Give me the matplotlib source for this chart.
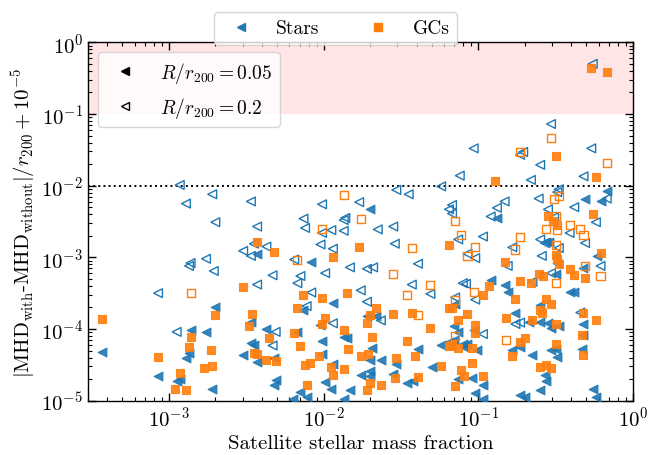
import numpy as np
import matplotlib
matplotlib.use("Agg")
import matplotlib.pyplot as plt
from matplotlib.lines import Line2D

plt.rcParams.update({
    "font.family": "serif",
    "font.serif": ["cmr10"],
    "mathtext.fontset": "cm",
    "axes.formatter.use_mathtext": True,
    "font.size": 15,
    "axes.unicode_minus": False,
})

# ---- data (log10 of satellite stellar mass fraction, log10 of |dMHD|/r200 + 1e-5) ----
stars_open_logx = [
    -2.93, -2.72, -2.89, -2.47, -2.70, -2.43, -2.45, -2.37, -2.52, -2.47, -2.76, -2.86, -2.87, -2.71, -2.43, -3.07, -2.95,
    -1.53, -1.45, -1.24, -2.01, -1.77, -2.13, -1.86, -1.87, -2.12, -2.01, -1.95, -1.87, -1.65, -1.55, -2.02, -1.94, -1.54,
    -2.19, -1.39, -1.83, -1.72, -1.68, -2.33, -2.15, -1.99, -2.17, -1.43, -2.08, -1.76, -1.31, -2.11, -1.72, -1.63, -1.94,
    -2.31, -2.33,
    -0.26, -0.53, -1.03, -0.27, -0.71, -0.73, -0.60, -1.12, -0.66, -0.32, -0.48, -0.49, -0.17, -0.61, -1.17, -1.19, -0.83,
    -0.88, -0.38, -0.55, -1.17, -0.92, -0.51, -0.24, -0.41, -0.97, -1.13, -0.60, -0.57, -0.31, -0.48, -0.78, -1.07, -1.02,
    -0.59, -0.81, -0.21, -0.53, -1.10, -1.08, -0.65, -1.02, -1.15, -0.97, -0.34, -0.73, -0.76]
stars_open_logy = [
    -1.99, -2.12, -2.25, -2.22, -2.51, -2.57, -2.81, -2.85, -2.91, -2.98, -3.02, -3.08, -3.12, -3.19, -3.38, -3.50, -4.04,
    -2.06, -2.12, -2.01, -2.26, -2.23, -2.46, -2.45, -2.48, -2.59, -2.66, -2.62, -2.63, -2.61, -2.57, -2.82, -2.88, -2.81,
    -3.03, -3.09, -3.14, -3.16, -3.14, -3.25, -3.26, -3.22, -3.36, -3.38, -3.49, -3.46, -3.51, -3.68, -3.62, -3.88, -3.92,
    -4.04, -4.23,
    -0.30, -1.14, -1.48, -1.48, -1.53, -1.57, -1.71, -1.86, -1.92, -1.87, -2.05, -2.09, -2.18, -2.18, -2.27, -2.33, -2.22,
    -2.31, -2.30, -2.33, -2.39, -2.43, -2.44, -2.51, -2.66, -2.71, -2.75, -2.75, -2.80, -2.80, -2.87, -2.86, -2.95, -3.01,
    -2.98, -3.12, -3.12, -3.22, -3.36, -3.37, -3.34, -3.59, -3.56, -4.07, -3.77, -3.91, -3.93]

stars_fill_logx = [
    -2.43, -2.70, -2.47, -2.86, -2.76, -2.37, -2.47, -2.45, -2.87, -3.43, -2.52, -2.89, -2.43, -3.07, -2.93, -2.95, -2.72,
    -1.70, -2.08, -2.13, -1.94, -1.72, -1.66, -2.02, -2.17, -1.87, -1.85, -2.01, -1.19, -1.24, -1.69, -1.39, -2.01, -2.32,
    -1.70, -1.63, -1.53, -1.94, -1.30, -1.70, -1.76, -1.70, -1.55, -2.31, -2.32, -1.99, -1.46, -1.42, -1.95, -1.83, -2.15,
    -2.11, -2.20, -1.87,
    -0.17, -0.31, -0.21, -0.88, -0.56, -0.54, -0.23, -0.49, -0.32, -0.50, -0.92, -0.83, -0.81, -1.15, -1.16, -1.03, -1.13,
    -1.16, -1.10, -1.07, -1.09, -1.01, -1.13, -1.04, -0.97, -1.02, -0.97, -0.60, -0.41, -0.38, -0.76, -0.67, -0.60, -0.55,
    -0.53, -0.48, -0.32, -0.32, -0.73, -0.78, -0.65, -0.50, -0.53, -0.49, -0.33, -0.57, -0.56, -0.60, -0.26, -0.73, -0.70,
    -0.24]
stars_fill_logy = [
    -2.95, -3.69, -3.90, -4.02, -4.04, -4.00, -4.20, -4.22, -4.33, -4.32, -4.36, -4.41, -4.46, -4.65, -4.70, -4.72, -4.83,
    -2.33, -3.07, -3.73, -3.64, -3.82, -3.82, -3.95, -4.04, -4.11, -4.12, -4.17, -4.18, -4.22, -4.27, -4.28, -4.35, -4.41,
    -4.43, -4.43, -4.49, -4.49, -4.53, -4.58, -4.64, -4.66, -4.63, -4.71, -4.78, -4.74, -4.76, -4.72, -4.84, -4.85, -4.88,
    -4.95, -4.97, -4.97,
    -2.08, -2.19, -2.22, -2.45, -2.78, -2.79, -2.98, -3.08, -3.15, -3.23, -3.32, -3.38, -3.48, -3.65, -3.96, -4.01, -4.04,
    -4.16, -4.21, -4.21, -4.25, -4.29, -4.70, -4.69, -4.78, -4.89, -4.97, -3.66, -3.49, -3.48, -3.78, -3.90, -3.90, -3.91,
    -3.99, -3.96, -3.93, -4.09, -4.25, -4.29, -4.36, -4.28, -4.29, -4.39, -4.28, -4.64, -4.72, -4.85, -4.83, -4.92, -4.95,
    -4.95]

gcs_fill_logx = [
    -2.43, -2.52, -2.70, -3.43, -2.46, -2.48, -2.86, -2.35, -2.87, -2.73, -2.45, -2.43, -3.07, -2.37, -2.72, -2.77, -2.93,
    -2.96, -2.89,
    -2.32, -1.77, -1.19, -1.94, -2.13, -2.01, -1.85, -2.17, -1.66, -1.55, -1.43, -1.70, -1.19, -1.99, -2.01, -1.72, -1.87,
    -2.19, -1.31, -1.69, -1.46, -2.15, -1.84, -1.19, -2.03, -1.76, -1.71, -1.41, -1.53, -2.31, -2.09, -2.12, -1.95, -1.87,
    -1.24, -1.94, -1.54, -1.39, -2.11, -1.70, -1.63, -1.72,
    -0.27, -0.17, -0.50, -0.89, -0.24, -0.26, -0.55, -0.52, -0.49, -0.50, -0.21, -0.49, -0.83, -0.48, -0.41, -0.38, -0.31,
    -0.61, -0.58, -0.73, -0.66, -0.93, -0.97, -1.17, -1.07, -1.13, -1.02, -1.02, -1.17, -1.13, -1.04, -1.04, -1.11, -1.09,
    -0.97, -1.15, -0.76, -0.56, -0.53, -0.60, -0.59, -0.32, -0.82, -0.65, -0.50, -0.24, -0.33, -0.73, -0.70, -0.78, -0.50,
    -0.32, -0.60, -0.56, -0.53]
gcs_fill_logy = [
    -2.78, -3.42, -3.80, -3.86, -3.79, -3.96, -4.11, -4.13, -4.25, -4.29, -4.33, -4.35, -4.39, -4.43, -4.52, -4.55, -4.61,
    -4.84, -4.85,
    -2.92, -2.86, -2.83, -3.00, -3.52, -3.57, -3.50, -3.71, -3.70, -3.79, -3.77, -3.81, -3.71, -3.85, -3.93, -3.91, -4.01,
    -4.05, -3.98, -4.11, -4.17, -4.23, -4.28, -4.23, -4.37, -4.38, -4.35, -4.38, -4.40, -4.45, -4.48, -4.50, -4.53, -4.56,
    -4.52, -4.64, -4.69, -4.67, -4.78, -4.75, -4.78, -4.85,
    -0.36, -0.42, -1.59, -1.94, -1.88, -2.39, -2.43, -2.49, -2.55, -2.97, -2.94, -3.02, -3.06, -3.09, -3.16, -3.24, -3.29,
    -3.23, -3.26, -3.33, -3.36, -3.40, -3.52, -3.71, -3.79, -3.87, -3.95, -4.06, -4.22, -4.26, -4.26, -4.48, -4.57, -4.66,
    -4.65, -4.79, -3.58, -3.58, -3.65, -3.74, -3.78, -3.77, -3.85, -3.88, -3.93, -3.88, -4.09, -4.18, -4.13, -4.37, -4.21,
    -4.36, -4.53, -4.50, -4.55]

gcs_open_logx = [
    -2.86, -1.87, -1.76, -2.01, -1.43, -2.17, -1.55, -1.31, -1.46, -1.39,
    -0.53, -0.73, -0.17, -0.48, -0.51, -0.50, -1.15, -0.41, -0.56, -0.49, -0.34, -0.32, -1.11, -0.73, -1.02, -0.50, -0.76,
    -1.07, -0.31, -0.21, -0.50, -1.03, -1.15, -1.15, -0.82]
gcs_open_logy = [
    -3.50, -2.13, -2.46, -2.60, -2.87, -3.04, -3.23, -3.38, -3.52, -3.81,
    -1.34, -1.53, -1.69, -2.14, -2.18, -2.42, -2.49, -2.55, -2.60, -2.62, -2.60, -2.69, -2.69, -2.71, -2.85, -2.83, -2.89,
    -2.98, -3.12, -3.26, -3.36, -3.48, -3.59, -4.10, -4.15]

series_labels = ["Stars", "GCs"]
radius_labels = [r"$R/r_{200} = 0.05$", r"$R/r_{200} = 0.2$"]
threshold = 1e-2
band = (1e-1, 1.0)

C_STAR = "#1f77b4"
C_GC = "#ff7f0e"

fig = plt.figure(figsize=(6.48, 4.56), dpi=100)
ax = fig.add_axes([88 / 648, 1 - 401.7 / 456, (633 - 88) / 648, (401.7 - 43.3) / 456])

ax.axhspan(band[0], band[1], color="red", alpha=0.1, lw=0, zorder=0)
ax.axhline(threshold, color="k", ls=":", lw=1.4, zorder=1)

def P(v):
    return 10 ** np.array(v)

ms = 40
ax.scatter(P(stars_fill_logx), P(stars_fill_logy), marker="<", s=ms, color=C_STAR, alpha=0.9, lw=0.8, zorder=3)
ax.scatter(P(stars_open_logx), P(stars_open_logy), marker="<", s=ms, facecolors="none", edgecolors=C_STAR, lw=1.0, zorder=3)
ax.scatter(P(gcs_fill_logx), P(gcs_fill_logy), marker="s", s=ms * 0.85, color=C_GC, alpha=0.9, lw=0.8, zorder=4)
ax.scatter(P(gcs_open_logx), P(gcs_open_logy), marker="s", s=ms * 0.85, facecolors="none", edgecolors=C_GC, lw=1.0, zorder=4)

ax.set_xscale("log")
ax.set_yscale("log")
ax.set_xlim(3e-4, 1)
ax.set_ylim(1e-5, 1)

ax.tick_params(which="both", direction="in", top=True, right=True)
ax.tick_params(which="major", length=6, width=1)
ax.tick_params(which="minor", length=3, width=0.8)
for sp in ax.spines.values():
    sp.set_linewidth(1.0)

ax.set_xlabel("Satellite stellar mass fraction", labelpad=3)
ax.set_ylabel(r"$|\mathrm{MHD}_{\mathrm{with}}$-$\mathrm{MHD}_{\mathrm{without}}|/r_{200} + 10^{-5}$", labelpad=2)

h_rad = [Line2D([], [], marker="<", ls="none", color="k", markersize=6),
         Line2D([], [], marker="<", ls="none", markerfacecolor="none", markeredgecolor="k", markersize=6)]
ax.legend(h_rad, radius_labels, loc="upper left", fontsize=14)

h_ser = [Line2D([], [], marker="<", ls="none", color=C_STAR, markersize=6),
         Line2D([], [], marker="s", ls="none", color=C_GC, markersize=5.5)]
fig.legend(h_ser, series_labels, loc="upper center", ncol=2, fontsize=14,
           bbox_to_anchor=(335.5 / 648, 1 - 3 / 456))

fig.savefig("out.png", dpi=100)
